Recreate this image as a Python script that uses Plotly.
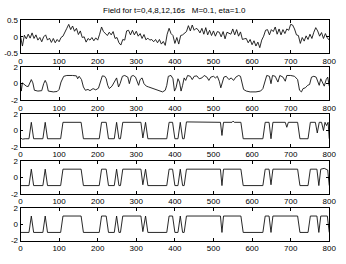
import plotly.graph_objects as go

# ---------------- data ----------------
title_text = "Field for t=0,4,8,12,16s   M=0.1, eta=1.0"
x_ticks = [0, 100, 200, 300, 400, 500, 600, 700, 800]
y_ticks_t0 = [-0.5, 0, 0.5]
y_ticks_t0_text = ["-0.5", "0", "0.5"]
y_ticks_later = [-2, 0, 2]
y_ticks_later_text = ["-2", "0", "2"]

# t = 0 s : noisy initial field, sampled every 5 units
x_t0 = list(range(0, 801, 5))
field_t0 = [
    0.02, -0.28, 0.05, -0.06, 0.08, -0.04, 0.12, -0.05, 0.06, -0.1,
    -0.02, -0.15, 0.0, 0.06, -0.1, -0.04, -0.17, -0.05, -0.18, -0.08,
    -0.15, -0.02, 0.02, 0.16, 0.26, 0.38, 0.22, 0.33, 0.17, 0.26,
    0.07, 0.18, -0.02, 0.0, -0.16, -0.05, -0.1, -0.02, -0.12, -0.03,
    -0.1, 0.08, 0.3, 0.16, 0.1, 0.04, 0.14, 0.06, 0.16, -0.05,
    -0.02, -0.18, -0.25, -0.08, -0.1, 0.18, 0.2, 0.06, 0.2, 0.06,
    0.17, 0.02, 0.1, -0.05, 0.07, -0.09, -0.04, -0.1, -0.08, -0.15,
    -0.08, -0.18, -0.08, -0.22, -0.14, -0.26, 0.08, 0.26, 0.1, 0.04,
    -0.2, -0.02, -0.22, 0.04, 0.06, 0.12, 0.16, 0.34, 0.18, 0.36,
    0.2, 0.26, 0.22, 0.12, 0.26, 0.08, 0.28, 0.06, 0.2, 0.04,
    0.18, 0.02, 0.16, 0.14, 0.0, 0.16, -0.06, 0.14, 0.1, 0.08,
    0.24, 0.06, 0.22, 0.02, 0.15, -0.08, -0.06, -0.05, -0.18, -0.08,
    -0.24, -0.12, -0.28, -0.16, -0.33, -0.1, 0.02, 0.2, 0.22, 0.06,
    0.22, 0.16, 0.3, 0.08, 0.24, 0.06, 0.22, 0.1, 0.24, 0.2,
    0.38, 0.36, 0.24, 0.06, 0.04, -0.2, -0.02, -0.13, 0.03, -0.08,
    0.08, -0.05, 0.14, 0.28, 0.18, 0.02, 0.13, -0.05, 0.1, -0.03,
    -0.1,
]

# t = 4 s
x_t4 = [0, 2, 5, 10, 15, 20, 25, 28, 32, 36, 45, 55, 60, 64, 68, 72, 85, 95, 100, 105,
        112, 120, 135, 145, 148, 152, 158, 163, 168, 175, 180, 188, 195, 202, 207, 212,
        218, 222, 226, 230, 237, 243, 249, 254, 258, 264, 270, 278, 282, 287, 292, 298,
        302, 306, 310, 315, 320, 326, 332, 338, 345, 352, 360, 368, 375, 379, 383, 390,
        395, 399, 403, 408, 412, 416, 420, 424, 428, 433, 440, 445, 450, 457, 463, 470,
        476, 483, 488, 493, 500, 505, 510, 515, 519, 523, 527, 533, 540, 546, 552, 558,
        565, 570, 574, 578, 585, 595, 610, 622, 628, 634, 638, 645, 649, 653, 660, 667,
        672, 680, 686, 690, 700, 710, 718, 723, 728, 732, 738, 744, 749, 754, 760, 766,
        770, 774, 778, 783, 787, 792, 796, 800]
field_t4 = [0.1, -0.9, 0.1, -0.1, -0.3, -0.35, 0.2, 0.5, 0.1, -0.8, -0.9, -0.85, 0.0, 0.4, 0.0, -0.9, -1.0, -0.95, -0.7, 0.2,
            0.9, 1.0, 1.0, 0.95, 0.6, 0.9, 0.5, -0.4, -0.8, -0.7, -0.85, -0.6, -0.75, -0.55, 0.2, 0.95,
            0.9, 0.6, -0.2, -0.6, -0.3, 0.3, 0.7, -0.4, 0.0, 0.9, 1.0, 0.8, 0.0, 0.9, 1.0, 0.8,
            0.2, -0.2, 0.5, 0.7, 0.0, -0.3, -0.4, -0.5, -0.6, -0.8, -0.9, -1.0, -0.8, -0.2, 0.9, 1.0,
            0.6, -0.9, -0.5, 0.6, 0.2, -0.9, -0.2, 0.7, 0.4, 1.0, 0.9, 0.5, 0.9, 0.95, 0.6, 0.7,
            1.0, 0.8, 0.4, 0.8, 0.9, 0.7, 0.9, 0.3, -0.5, 0.2, 0.8, 0.9, 0.5, 0.7, 0.4, 0.8,
            1.0, 0.9, 0.2, -0.7, -0.9, -1.0, -1.0, -0.9, -0.6, 0.6, 1.0, 0.9, 0.0, 1.0, 0.9, 0.2,
            1.0, 0.8, 0.3, 1.0, 1.0, 0.9, 0.5, -0.8, -1.0, -0.6, -0.5, -0.2, -0.1, 0.8, 0.9, 0.8,
            0.3, -0.2, 0.6, 0.1, -0.3, 0.5, 0.8, -0.3]

# t = 8 s
x_t8 = [0, 5, 12, 22, 28, 34, 58, 64, 70, 104, 110, 157, 163, 204, 210, 222, 228, 243, 249, 255,
        259, 265, 312, 317, 324, 330, 379, 385, 394, 400, 408, 414, 420, 424, 430, 480, 518, 522,
        526, 548, 551, 554, 571, 577, 628, 634, 644, 649, 654, 686, 690, 694, 718, 724, 745, 751,
        764, 769, 774, 780, 785, 789, 793, 797, 800]
field_t8 = [-0.9, -1.05, -1.0, -1.0, 1.0, -1.0, -1.0, 1.0, -1.0, -1.0, 1.0, 1.0, -1.0, -1.0, 1.0, 1.0, -1.0, -1.0, 1.0, -1.0,
            -1.0, 1.0, 1.0, -0.9, 1.0, -1.0, -1.0, 1.0, 1.0, -1.0, -1.0, 1.0, -1.0, -1.0, 1.05, 1.0, 1.0, -0.6,
            1.0, 1.0, 1.15, 1.0, 1.0, -1.0, -1.0, 1.0, 1.0, -1.0, 1.0, 1.0, 0.4, 1.0, 1.0, -1.0, -1.0, 1.0,
            1.0, -0.3, 1.0, 1.0, 0.0, 1.0, 0.6, 1.0, -1.0]

# t = 12 s
x_t12 = [0, 22, 28, 34, 58, 64, 70, 104, 110, 157, 163, 204, 210, 222, 228, 243, 249, 255,
         259, 265, 312, 317, 324, 330, 379, 385, 394, 400, 408, 414, 420, 424, 430, 518, 522,
         526, 571, 577, 628, 634, 644, 649, 654, 718, 724, 745, 751, 768, 773, 778, 787, 792, 796, 800]
field_t12 = [-1.0, -1.0, 1.0, -1.0, -1.0, 1.0, -1.0, -1.0, 1.0, 1.0, -1.0, -1.0, 1.0, 1.0, -1.0, -1.0, 1.0, -1.0,
             -1.0, 1.0, 1.0, -0.9, 1.0, -1.0, -1.0, 1.0, 1.0, -1.0, -1.0, 1.0, -1.0, -1.0, 1.0, 1.0, -1.0,
             1.0, 1.0, -1.0, -1.0, 1.0, 1.0, -0.9, 1.0, 1.0, -1.0, -1.0, 1.0, 1.0, -1.0, 1.0, 1.1, 1.0, 0.9, -1.0]

# t = 16 s
x_t16 = [0, 22, 28, 34, 58, 64, 70, 104, 110, 157, 163, 204, 210, 222, 228, 243, 249, 255,
         259, 265, 312, 317, 324, 330, 379, 385, 394, 400, 408, 414, 420, 424, 430, 518, 522,
         526, 571, 577, 628, 634, 644, 649, 654, 718, 724, 745, 751, 768, 773, 778, 795, 800]
field_t16 = [-1.0, -1.0, 1.0, -1.0, -1.0, 1.0, -1.0, -1.0, 1.0, 1.0, -1.0, -1.0, 1.0, 1.0, -1.0, -1.0, 1.0, -1.0,
             -1.0, 1.0, 1.0, -0.9, 1.0, -1.0, -1.0, 1.0, 1.0, -1.0, -1.0, 1.0, -1.0, -1.0, 1.0, 1.0, -1.0,
             1.0, 1.0, -1.0, -1.0, 1.0, 1.0, -1.0, 1.0, 1.0, -1.0, -1.0, 1.0, 1.0, -1.0, 1.0, 1.0, -1.0]

series = [
    (x_t0, field_t0, [-0.5, 0.5], y_ticks_t0, y_ticks_t0_text),
    (x_t4, field_t4, [-2, 2], y_ticks_later, y_ticks_later_text),
    (x_t8, field_t8, [-2, 2], y_ticks_later, y_ticks_later_text),
    (x_t12, field_t12, [-2, 2], y_ticks_later, y_ticks_later_text),
    (x_t16, field_t16, [-2, 2], y_ticks_later, y_ticks_later_text),
]

# ---------------- figure ----------------
W, H = 346, 264
FONT = "Liberation Sans, Arial, Helvetica, sans-serif"
FS = 8
fig = go.Figure()
layout = dict(
    width=W, height=H,
    margin=dict(l=0, r=0, t=0, b=0),
    paper_bgcolor="white", plot_bgcolor="white",
    showlegend=False,
    font=dict(family=FONT, size=FS, color="black"),
)

x0, x1 = 19 / W, 336 / W
for i, (xs, ys, yr, yt, ytl) in enumerate(series, start=1):
    top = 17 + 48.5 * (i - 1)
    bot = top + 34
    sfx = "" if i == 1 else str(i)
    fig.add_trace(go.Scatter(
        x=xs, y=ys, mode="lines",
        line=dict(color="#111111", width=0.9),
        xaxis="x" + sfx, yaxis="y" + sfx, hoverinfo="skip",
    ))
    common = dict(
        showline=True, linecolor="black", linewidth=0.8, mirror="allticks",
        ticks="inside", ticklen=3, tickwidth=0.6, tickcolor="black",
        showgrid=False, zeroline=False, tickfont=dict(size=FS, family=FONT),
    )
    layout["xaxis" + sfx] = dict(
        domain=[x0, x1], range=[0, 800], tickvals=x_ticks,
        ticktext=[str(v) for v in x_ticks], anchor="y" + sfx, **common,
    )
    layout["yaxis" + sfx] = dict(
        domain=[(H - bot) / H, (H - top) / H], range=yr, tickvals=yt,
        ticktext=ytl, anchor="x" + sfx, **common,
    )

layout["annotations"] = [dict(
    text=title_text, xref="paper", yref="paper", x=177 / W, y=(H - 7) / H,
    xanchor="center", yanchor="middle", showarrow=False,
    font=dict(size=FS, family=FONT, color="black"),
)]
fig.update_layout(**layout)
fig.write_html("out.html", config={"displayModeBar": False},
               post_script="document.body.style.margin='0';document.body.style.overflow='hidden';")
